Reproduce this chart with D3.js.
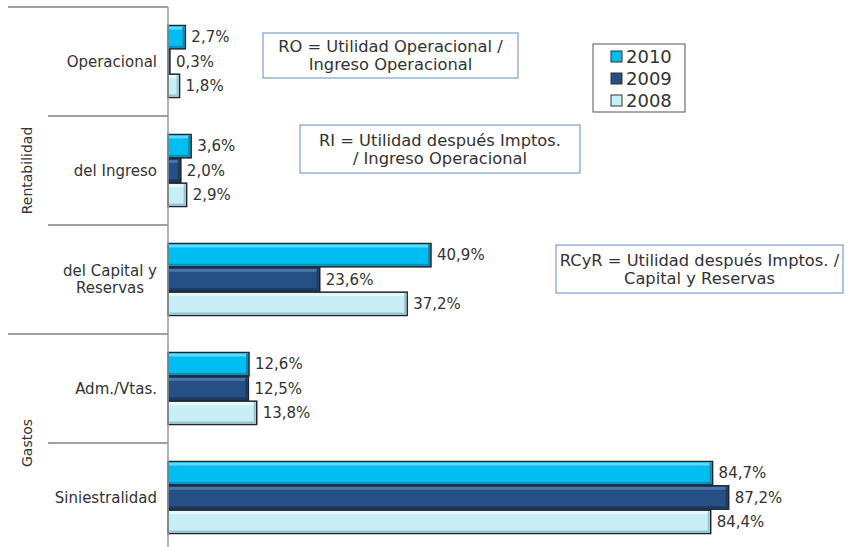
<!DOCTYPE html>
<html>
<head>
<meta charset="utf-8">
<script src="https://cdn.jsdelivr.net/npm/d3@7"></script>
<style>
  body { margin: 0; background: #fff; }
  text { font-family: "DejaVu Sans", Verdana, sans-serif; fill: #333; }
</style>
</head>
<body>
<div id="chart"></div>
<script>
// data
const categories = ["Operacional", "del Ingreso", "del Capital y\nReservas", "Adm./Vtas.", "Siniestralidad"];
const series = ["2010", "2009", "2008"];
const values2010 = [2.7, 3.6, 40.9, 12.6, 84.7];
const values2009 = [0.3, 2.0, 23.6, 12.5, 87.2];
const values2008 = [1.8, 2.9, 37.2, 13.8, 84.4];
const groups = [
  { name: "Rentabilidad", from: 0, to: 2 },
  { name: "Gastos", from: 3, to: 4 }
];
const notes = [
  { lines: ["RO = Utilidad Operacional /", "Ingreso Operacional"], x: 263, y: 33, w: 255, h: 45 },
  { lines: ["RI = Utilidad después Imptos.", "/ Ingreso Operacional"], x: 300, y: 125, w: 280, h: 48 },
  { lines: ["RCyR = Utilidad después Imptos. /", "Capital y Reservas"], x: 556, y: 245, w: 287, h: 48 }
];

const colors = { "2010": "#00bef2", "2009": "#264f86", "2008": "#c8eef6" };
const light = { "2010": "#5fd8fb", "2009": "#4a73a8", "2008": "#e6f8fb" };
const dark = { "2010": "#0090b8", "2009": "#1b3a64", "2008": "#98c6d0" };

const width = 849, height = 547;
const x0 = 168;

const svg = d3.select("#chart").append("svg")
  .attr("width", width)
  .attr("height", height);

const x = d3.scaleLinear().domain([0, 100]).range([x0, x0 + 643]);
const y = d3.scaleBand().domain(d3.range(categories.length)).range([7, 552]);
const ys = d3.scaleBand().domain(series).range([0, 72]).paddingInner(0.04);
const pad = (y.bandwidth() - 72) / 2;

const data = [];
categories.forEach((c, i) => {
  [values2010, values2009, values2008].forEach((arr, j) => {
    data.push({ cat: i, s: series[j], v: arr[i] });
  });
});

// separator lines
const g = svg.append("g");
g.append("line").attr("x1", 8).attr("x2", x0).attr("y1", y(0)).attr("y2", y(0))
  .attr("stroke", "#a0a0a0").attr("stroke-width", 2);
d3.range(1, categories.length).forEach(i => {
  const isGroupEdge = groups.some(gr => gr.from === i);
  g.append("line")
    .attr("x1", isGroupEdge ? 8 : 48).attr("x2", x0)
    .attr("y1", y(i)).attr("y2", y(i))
    .attr("stroke", "#a0a0a0").attr("stroke-width", 2);
});

// bars
const bars = svg.append("g").selectAll("g.bar").data(data).enter().append("g");
bars.append("rect")
  .attr("x", x(0))
  .attr("y", d => y(d.cat) + pad + ys(d.s))
  .attr("width", d => x(d.v) - x(0))
  .attr("height", ys.bandwidth())
  .attr("fill", d => colors[d.s])
  .attr("stroke", "#1c2630")
  .attr("stroke-width", 1.5);
bars.append("rect")
  .attr("x", x(0) + 1)
  .attr("y", d => y(d.cat) + pad + ys(d.s) + 1)
  .attr("width", d => Math.max(0, x(d.v) - x(0) - 2))
  .attr("height", 3)
  .attr("fill", d => light[d.s]);
bars.append("rect")
  .attr("x", d => Math.max(x(0), x(d.v) - 3))
  .attr("y", d => y(d.cat) + pad + ys(d.s) + 1)
  .attr("width", d => Math.min(2, x(d.v) - x(0)))
  .attr("height", ys.bandwidth() - 2)
  .attr("fill", d => dark[d.s]);
bars.append("rect")
  .attr("x", x(0) + 1)
  .attr("y", d => y(d.cat) + pad + ys(d.s) + ys.bandwidth() - 3)
  .attr("width", d => Math.max(0, x(d.v) - x(0) - 2))
  .attr("height", 2)
  .attr("fill", d => dark[d.s]);

bars.append("text")
  .attr("x", d => x(d.v) + 6)
  .attr("y", d => y(d.cat) + pad + ys(d.s) + ys.bandwidth() / 2)
  .attr("dy", "0.35em")
  .style("font-size", "15px")
  .text(d => d3.format(".1f")(d.v).replace(".", ",") + "%");

// axis
svg.append("line").attr("x1", x0).attr("x2", x0).attr("y1", 7).attr("y2", height)
  .attr("stroke", "#999").attr("stroke-width", 1.5);

// category labels (multi-line labels are centred on their widest line)
categories.forEach((c, i) => {
  const lines = c.split("\n");
  const t = svg.append("text")
    .attr("y", y(i) + y.bandwidth() / 2 - (lines.length - 1) * 8.5)
    .style("font-size", "15px");
  lines.forEach((l, k) => {
    t.append("tspan").attr("dy", k === 0 ? "0.35em" : "17px").text(l);
  });
  if (lines.length === 1) {
    t.attr("text-anchor", "end").selectAll("tspan").attr("x", 157);
  } else {
    const w = d3.max(t.selectAll("tspan").nodes(), n => n.getComputedTextLength());
    t.attr("text-anchor", "middle").selectAll("tspan").attr("x", 157 - w / 2);
  }
});

// group labels
groups.forEach(gr => {
  const cy = (y(gr.from) + y(gr.to) + y.bandwidth()) / 2;
  svg.append("text")
    .attr("transform", `translate(27,${cy}) rotate(-90)`)
    .attr("text-anchor", "middle")
    .attr("dy", "0.35em")
    .style("font-size", "14px")
    .text(gr.name);
});

// note boxes
notes.forEach(n => {
  const b = svg.append("g");
  b.append("rect").attr("x", n.x).attr("y", n.y).attr("width", n.w).attr("height", n.h)
    .attr("fill", "#fff").attr("stroke", "#7b9fd2").attr("stroke-width", 1.2);
  n.lines.forEach((l, k) => {
    b.append("text")
      .attr("x", n.x + n.w / 2)
      .attr("y", n.y + n.h / 2 + (k - 0.5) * 18)
      .attr("dy", "0.35em")
      .attr("text-anchor", "middle")
      .style("font-size", "16.3px")
      .text(l);
  });
});

// legend
const lg = svg.append("g").attr("transform", "translate(593,44)");
lg.append("rect").attr("width", 92).attr("height", 68).attr("fill", "#fff")
  .attr("stroke", "#555").attr("stroke-width", 1);
series.forEach((s, i) => {
  const row = lg.append("g").attr("transform", `translate(0,${13 + i * 22})`);
  row.append("rect").attr("x", 18).attr("y", -6).attr("width", 11).attr("height", 11)
    .attr("fill", colors[s]).attr("stroke", "#333").attr("stroke-width", 1);
  row.append("text").attr("x", 33).attr("dy", "0.35em")
    .style("font-size", "18px").text(s);
});
</script>
</body>
</html>
